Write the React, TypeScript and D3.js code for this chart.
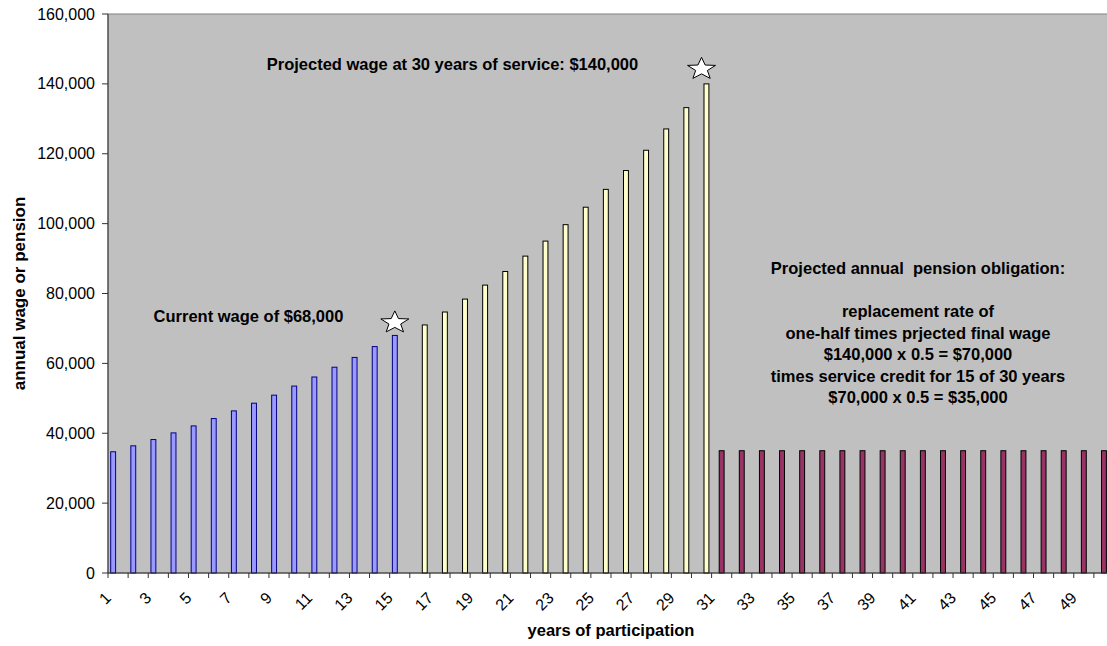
import React from "react";
import * as d3 from "d3";

const years = [1,2,3,4,5,6,7,8,9,10,11,12,13,14,15,16,17,18,19,20,21,22,23,24,25,26,27,28,29,30,31,32,33,34,35,36,37,38,39,40,41,42,43,44,45,46,47,48,49,50];
const currentWage = [34700, 36400, 38200, 40100, 42100, 44200, 46400, 48600, 50900, 53500, 56100, 58900, 61700, 64800, 68000];
const projectedWage = [71000, 74700, 78400, 82400, 86300, 90700, 95000, 99700, 104700, 109800, 115200, 121000, 127100, 133200, 140000];
const pension = [35000,35000,35000,35000,35000,35000,35000,35000,35000,35000,35000,35000,35000,35000,35000,35000,35000,35000,35000,35000];
const yTicks = [0, 20000, 40000, 60000, 80000, 100000, 120000, 140000, 160000];
const seriesNames = ["current", "pension", "projected"];
const pensionLines = [
  "replacement rate of",
  "one-half times prjected final wage",
  "$140,000 x 0.5 = $70,000",
  "times service credit for 15 of 30 years",
  "$70,000 x 0.5 = $35,000",
];

const W = 1107, H = 646;
const FONT = "'Liberation Sans', Arial, sans-serif";

const seriesStyle: Record<string, { fill: string; stroke: string }> = {
  current: { fill: "#9999FF", stroke: "#000080" },
  pension: { fill: "#993366", stroke: "#000000" },
  projected: { fill: "#FFFFCC", stroke: "#000000" },
};

function starPath(cx: number, cy: number, w: number, h: number) {
  const pts: [number, number][] = [];
  const R = 1, r = 0.42;
  for (let i = 0; i < 10; i++) {
    const a = -Math.PI / 2 + (i * Math.PI) / 5;
    const rad = i % 2 === 0 ? R : r;
    pts.push([Math.cos(a) * rad, Math.sin(a) * rad]);
  }
  const sx = w / (2 * Math.sin((2 * Math.PI) / 5));
  const sy = h / (1 + Math.cos(Math.PI / 5));
  const oy = (1 - Math.cos(Math.PI / 5)) / 2;
  return (
    "M" +
    pts.map(([x, y]) => `${(cx + x * sx).toFixed(2)},${(cy + (y + oy) * sy).toFixed(2)}`).join("L") +
    "Z"
  );
}

export default function App() {
  const left = 108, top = 14, bottom = 573;
  const step = 20.12;
  const x = d3.scaleBand<number>().domain(years).range([left, left + step * years.length]).padding(0);
  const bw = x.bandwidth();
  const xs = d3.scaleBand<string>().domain(seriesNames).range([0, bw]).paddingInner(0).paddingOuter(0.55);
  const y = d3.scaleLinear().domain([0, 160000]).range([bottom, top]);

  type Bar = { year: number; value: number; series: string };
  const bars: Bar[] = [];
  currentWage.forEach((v, i) => bars.push({ year: years[i], value: v, series: "current" }));
  projectedWage.forEach((v, i) => bars.push({ year: years[i + 15], value: v, series: "projected" }));
  pension.forEach((v, i) => bars.push({ year: years[i + 30], value: v, series: "pension" }));

  const plotRight = left + step * years.length;
  const star1x = (x(15) as number) + (xs("current") as number) + xs.bandwidth() / 2;
  const star1y = y(68000) - 14;
  const star2x = (x(30) as number) + bw / 2;
  const star2y = y(140000) - 16;

  return (
    <svg width={W} height={H} style={{ position: "absolute", left: 0, top: 0, background: "#fff" }} fontFamily={FONT}>
      <rect x={0} y={0} width={W} height={H} fill="#fff" />
      <rect x={left} y={top} width={plotRight - left} height={bottom - top} fill="#C0C0C0" stroke="#808080" strokeWidth={1} />
      {bars.map((b) => (
        <rect
          key={b.series + b.year}
          x={(x(b.year) as number) + (xs(b.series) as number)}
          y={y(b.value)}
          width={xs.bandwidth()}
          height={bottom - y(b.value)}
          fill={seriesStyle[b.series].fill}
          stroke={seriesStyle[b.series].stroke}
          strokeWidth={1}
        />
      ))}
      <line x1={left} x2={left} y1={top} y2={bottom} stroke="#333" />
      {yTicks.map((t) => (
        <g key={t}>
          <line x1={left - 6} x2={left} y1={y(t)} y2={y(t)} stroke="#333" />
          <text x={left - 13} y={y(t)} dy="0.35em" textAnchor="end" fontSize={16} fill="#000">
            {d3.format(",")(t)}
          </text>
        </g>
      ))}
      <line x1={left} x2={plotRight} y1={bottom} y2={bottom} stroke="#333" />
      {years.concat([51]).map((yr, i) => (
        <line key={"t" + yr} x1={left + i * step} x2={left + i * step} y1={bottom} y2={bottom + 5} stroke="#333" />
      ))}
      {years.filter((yr) => yr % 2 === 1).map((yr) => {
        const cx = (x(yr) as number) + bw / 2 - 6;
        return (
          <text key={"l" + yr} transform={`translate(${cx},${bottom + 26}) rotate(-45)`} textAnchor="end" fontSize={16} fill="#000">
            {yr}
          </text>
        );
      })}
      <text x={(left + plotRight) / 2} y={636} textAnchor="middle" fontSize={16.5} fontWeight="bold">
        years of participation
      </text>
      <text transform={`translate(25,${(top + bottom) / 2}) rotate(-90)`} textAnchor="middle" fontSize={17} fontWeight="bold">
        annual wage or pension
      </text>
      <text x={452.5} y={69.5} textAnchor="middle" fontSize={16.5} fontWeight="bold">
        Projected wage at 30 years of service: $140,000
      </text>
      <text x={248.5} y={321.5} textAnchor="middle" fontSize={16.5} fontWeight="bold">
        Current wage of $68,000
      </text>
      <text x={918} y={274} textAnchor="middle" fontSize={16.5} fontWeight="bold" style={{ whiteSpace: "pre" }}>
        {"Projected annual  pension obligation:"}
      </text>
      {pensionLines.map((s, i) => (
        <text key={s} x={918} y={317 + i * 21.5} textAnchor="middle" fontSize={16.5} fontWeight="bold">
          {s}
        </text>
      ))}
      <path d={starPath(star1x, star1y, 28, 21)} fill="#fff" stroke="#000" strokeWidth={1} />
      <path d={starPath(star2x, star2y, 28, 21)} fill="#fff" stroke="#000" strokeWidth={1} />
    </svg>
  );
}
